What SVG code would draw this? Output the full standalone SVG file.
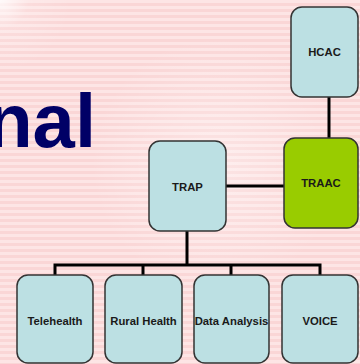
<svg xmlns="http://www.w3.org/2000/svg" width="360" height="364" viewBox="0 0 360 364">
<defs>
<pattern id="stripes" width="360" height="6" patternUnits="userSpaceOnUse">
<rect width="360" height="6" fill="#fde5e5"/>
<rect y="3" width="360" height="3" fill="#fad6d6"/>
</pattern>
<radialGradient id="glow" cx="0" cy="0" r="1" gradientUnits="objectBoundingBox">
<stop offset="0" stop-color="#ffffff" stop-opacity="0.8"/>
<stop offset="0.08" stop-color="#ffffff" stop-opacity="0.15"/>
<stop offset="0.2" stop-color="#ffffff" stop-opacity="0"/>
</radialGradient>
<radialGradient id="mid" cx="0.6" cy="0.45" r="0.35">
<stop offset="0" stop-color="#ffffff" stop-opacity="0.35"/>
<stop offset="1" stop-color="#ffffff" stop-opacity="0"/>
</radialGradient>
</defs>
<style>
.box{fill:#bce0e3;stroke:#333333;stroke-width:1.5}
.green{fill:#99cc00;stroke:#333333;stroke-width:1.5}
.lbl{font-family:"Liberation Sans",Arial,sans-serif;font-weight:bold;font-size:11.3px;fill:#1a1a1a;text-anchor:middle;dominant-baseline:central}
.conn{stroke:#000000;stroke-width:3;fill:none}
</style>
<rect width="360" height="364" fill="url(#stripes)"/>
<rect width="360" height="364" fill="url(#mid)"/>
<rect width="360" height="364" fill="url(#glow)"/>
<text x="96" y="147" font-family="'Liberation Sans',Arial,sans-serif" font-weight="bold" font-size="76" fill="#000066" text-anchor="end">nal</text>
<g id="connectors">
<line class="conn" x1="329" y1="97" x2="329" y2="138"/>
<line class="conn" x1="226" y1="186" x2="284" y2="186"/>
<line class="conn" x1="187" y1="231" x2="187" y2="265"/>
<polyline class="conn" points="55,276 55,265 320,265 320,276"/>
<line class="conn" x1="143" y1="265" x2="143" y2="276"/>
<line class="conn" x1="231" y1="265" x2="231" y2="276"/>
</g>
<g id="hcac"><rect class="box" x="291" y="7" width="67" height="90" rx="11"/><text class="lbl" x="324.5" y="52">HCAC</text></g>
<g id="traac"><rect class="green" x="284" y="138" width="74" height="90" rx="11"/><text class="lbl" x="321" y="183">TRAAC</text></g>
<g id="trap"><rect class="box" x="149" y="141" width="77" height="90" rx="11"/><text class="lbl" x="187.5" y="187">TRAP</text></g>
<g id="telehealth"><rect class="box" x="17" y="275" width="76" height="88" rx="11"/><text class="lbl" x="55" y="321">Telehealth</text></g>
<g id="rural"><rect class="box" x="105" y="275" width="77" height="88" rx="11"/><text class="lbl" x="143.5" y="321">Rural Health</text></g>
<g id="data"><rect class="box" x="194" y="275" width="75" height="88" rx="11"/><text class="lbl" x="231.5" y="321">Data Analysis</text></g>
<g id="voice"><rect class="box" x="282" y="275" width="76" height="88" rx="11"/><text class="lbl" x="320" y="321">VOICE</text></g>
</svg>
